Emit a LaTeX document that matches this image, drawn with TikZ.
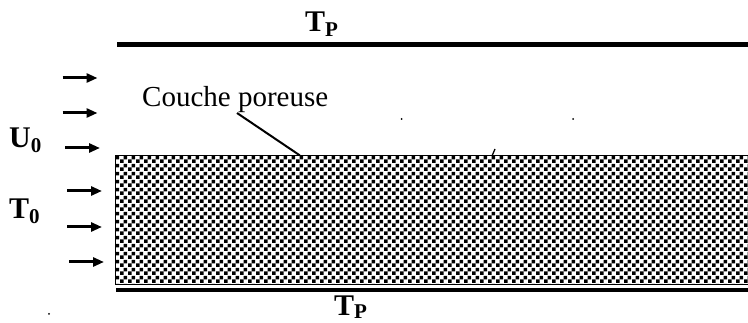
\documentclass[tikz,border=0pt]{standalone}
\usepackage{fontspec}
\setmainfont{Liberation Serif}
\usetikzlibrary{patterns.meta,arrows.meta}
\tikzdeclarepattern{
  name=chk,
  type=uncolored,
  bottom left={(0pt,0pt)},
  top right={(8pt,8pt)},
  tile size={(8pt,8pt)},
  code={\fill (0pt,0pt) rectangle (4pt,4pt); \fill (4pt,4pt) rectangle (8pt,8pt);}
}
\newcommand\sbs[1]{\raisebox{-4.5pt}{\fontsize{21}{21}\selectfont #1}}
\newcommand\sbsb[1]{\raisebox{-3.5pt}{\fontsize{21}{21}\selectfont #1}}
\begin{document}
\begin{tikzpicture}[x=1pt,y=-1pt,
  flow/.style={line width=3pt,-{Triangle[length=11pt,width=9pt]}},
  wall/.style={line width=5pt},
  lbl/.style={font=\fontsize{30}{30}\selectfont\bfseries, inner sep=0pt, anchor=base west},
  txt/.style={font=\fontsize{29}{29}\selectfont, inner sep=0pt, anchor=base west},
  speck/.style={fill=black, inner sep=0pt, minimum size=2pt, circle}
]
\useasboundingbox (0,0) rectangle (748,323);
% porous layer
\fill[pattern=chk] (115.5,155.5) rectangle (748,285);
\draw[line width=1pt] (748,155.5) -- (115.5,155.5) -- (115.5,285) -- (748,285);
\node[inner sep=0pt, minimum width=0pt] (layer) at (300,155.5) {};
% walls
\coordinate (wt1) at (117,45);
\coordinate (wt2) at (748,45);
\draw[wall] (wt1) -- (wt2);
\coordinate (wb1) at (116,290);
\coordinate (wb2) at (748,290);
\draw[wall, line width=4.5pt] (wb1) -- (wb2);
% labels
\node[lbl] (tpt) at (305,32) {T\sbs{P}};
\node[lbl] (tpb) at (334,315.5) {T\sbsb{P}};
\node[lbl] (u0) at (9,148) {U\sbs{0}};
\node[lbl] (t0) at (9,219) {T\sbs{0}};
\node[txt] (couche) at (142,107) {Couche poreuse};
\coordinate (lead) at (237,113);
\draw[line width=2pt] (lead) -- (layer);
% inflow arrows
\foreach \i/\xa/\y in {1/62.5/78,2/62.5/113,3/65/148,4/67/191,5/67/227,6/69/262}{
  \coordinate (a\i) at (\xa,\y);
  \coordinate (b\i) at (\xa+35,\y);
  \draw[flow] (a\i) -- (b\i);
}
% specks
\node[speck] (s1) at (401.5,119) {};
\node[speck] (s2) at (573,119) {};
\node[speck] (s3) at (49,314) {};
\coordinate (k1) at (492,156);
\coordinate (k2) at (495,149);
\draw[line width=1.3pt] (k1) -- (k2);
\end{tikzpicture}
\end{document}
